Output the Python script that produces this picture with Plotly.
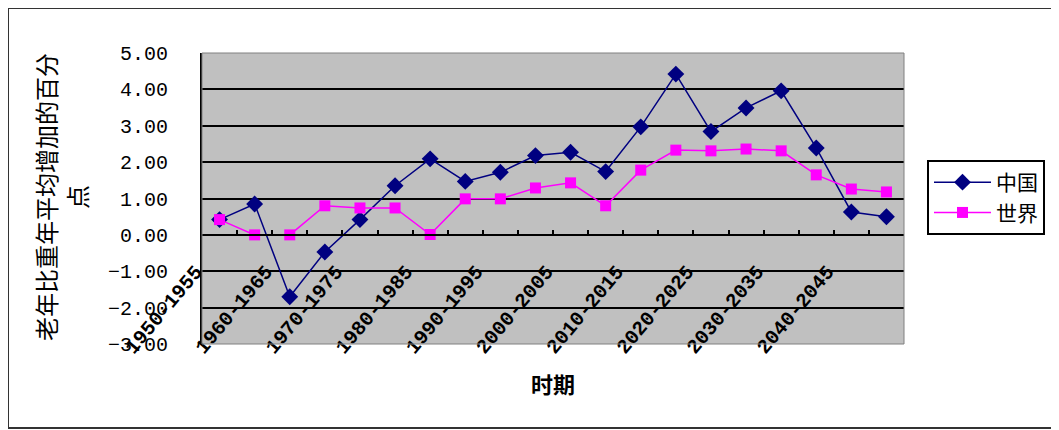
import plotly.graph_objects as go

periods = ["1950-1955", "1955-1960", "1960-1965", "1965-1970", "1970-1975",
           "1975-1980", "1980-1985", "1985-1990", "1990-1995", "1995-2000",
           "2000-2005", "2005-2010", "2010-2015", "2015-2020", "2020-2025",
           "2025-2030", "2030-2035", "2035-2040", "2040-2045", "2045-2050"]
china = [0.42, 0.85, -1.70, -0.47, 0.42, 1.35, 2.09, 1.47, 1.72, 2.18,
         2.27, 1.74, 2.97, 4.42, 2.84, 3.49, 3.96, 2.39, 0.63, 0.50]
world = [0.42, 0.00, 0.00, 0.80, 0.74, 0.74, 0.01, 0.99, 0.99, 1.29,
         1.43, 0.80, 1.78, 2.33, 2.31, 2.36, 2.31, 1.65, 1.26, 1.18]
y_ticks = [-3, -2, -1, 0, 1, 2, 3, 4, 5]
tick_text = [p if i % 2 == 0 else "" for i, p in enumerate(periods)]

fig = go.Figure()
fig.add_trace(go.Scatter(x=periods, y=china, name="中国", mode="lines+markers",
                         xaxis="x", yaxis="y",
                         line=dict(color="#000080", width=1.5),
                         marker=dict(symbol="diamond", size=13, color="#000080")))
fig.add_trace(go.Scatter(x=periods, y=world, name="世界", mode="lines+markers",
                         xaxis="x2", yaxis="y",
                         line=dict(color="#FF00FF", width=1.5),
                         marker=dict(symbol="square", size=11, color="#FF00FF")))

OFF = 8  # page body margin
W, H = 1051, 422
L, T = 202 - OFF, 53 - OFF
R = W - (904 - OFF)
B = H - (344 - OFF)
pw, ph = W - L - R, H - T - B

def px(xs):
    return (xs - OFF - L) / pw

def py(ys):
    return (H - B - (ys - OFF)) / ph

fig.update_layout(
    width=W, height=H,
    margin=dict(l=L, r=R, t=T, b=B),
    paper_bgcolor="white",
    plot_bgcolor="#C0C0C0",
    showlegend=True,
    legend=dict(x=px(927), y=py(160), xanchor="left", yanchor="top",
                bgcolor="white", bordercolor="black", borderwidth=2,
                font=dict(family="Noto Sans CJK SC", size=21, color="black"),
                itemwidth=57, tracegroupgap=0),
    xaxis=dict(type="category", categoryorder="array", categoryarray=periods,
               anchor="free", position=3/8,
               tickvals=periods, ticktext=tick_text, tickangle=-50,
               ticks="", showline=False, showgrid=False, zeroline=False,
               ticklabelstandoff=20, ticklabelshift=-24,
               tickfont=dict(family="Liberation Mono", size=20, color="black",
                             weight="bold"),
               range=[-0.5, 19.5]),
    xaxis2=dict(type="category", categoryorder="array", categoryarray=periods,
                overlaying="x", matches="x", anchor="free", position=3/8,
                tickson="boundaries", showticklabels=False,
                ticks="inside", ticklen=4, tickcolor="black", tickwidth=1.5,
                showline=True, linecolor="black", linewidth=2,
                showgrid=False),
    yaxis=dict(range=[-3, 5], tickvals=y_ticks, tickformat=".2f",
               domain=[0, 1],
               showgrid=True, gridcolor="black", gridwidth=2,
               zeroline=True, zerolinecolor="black", zerolinewidth=2,
               showline=True, linecolor="black", linewidth=2,
               ticks="", ticklabelstandoff=28,
               tickfont=dict(family="Liberation Mono", size=20, color="black")),
    annotations=[
        dict(text="老年比重年平均增加的百分<br>点", xref="paper", yref="paper",
             x=px(61), y=py(197), textangle=-90, showarrow=False,
             xanchor="center", yanchor="middle", align="center",
             font=dict(family="Noto Sans CJK SC", size=24, color="black")),
        dict(text="时期", xref="paper", yref="paper", x=px(553), y=py(383),
             showarrow=False, xanchor="center", yanchor="middle",
             font=dict(family="Noto Sans CJK SC", size=22, color="black",
                       weight="bold")),
    ],
    shapes=[
        dict(type="rect", xref="paper", yref="paper", x0=0, x1=1, y0=0, y1=1,
             line=dict(color="#808080", width=1)),
        dict(type="rect", xref="paper", yref="paper",
             x0=px(8), x1=px(1052), y0=py(428), y1=py(8),
             line=dict(color="#333333", width=2)),
    ],
)

fig.write_html("out.html")
